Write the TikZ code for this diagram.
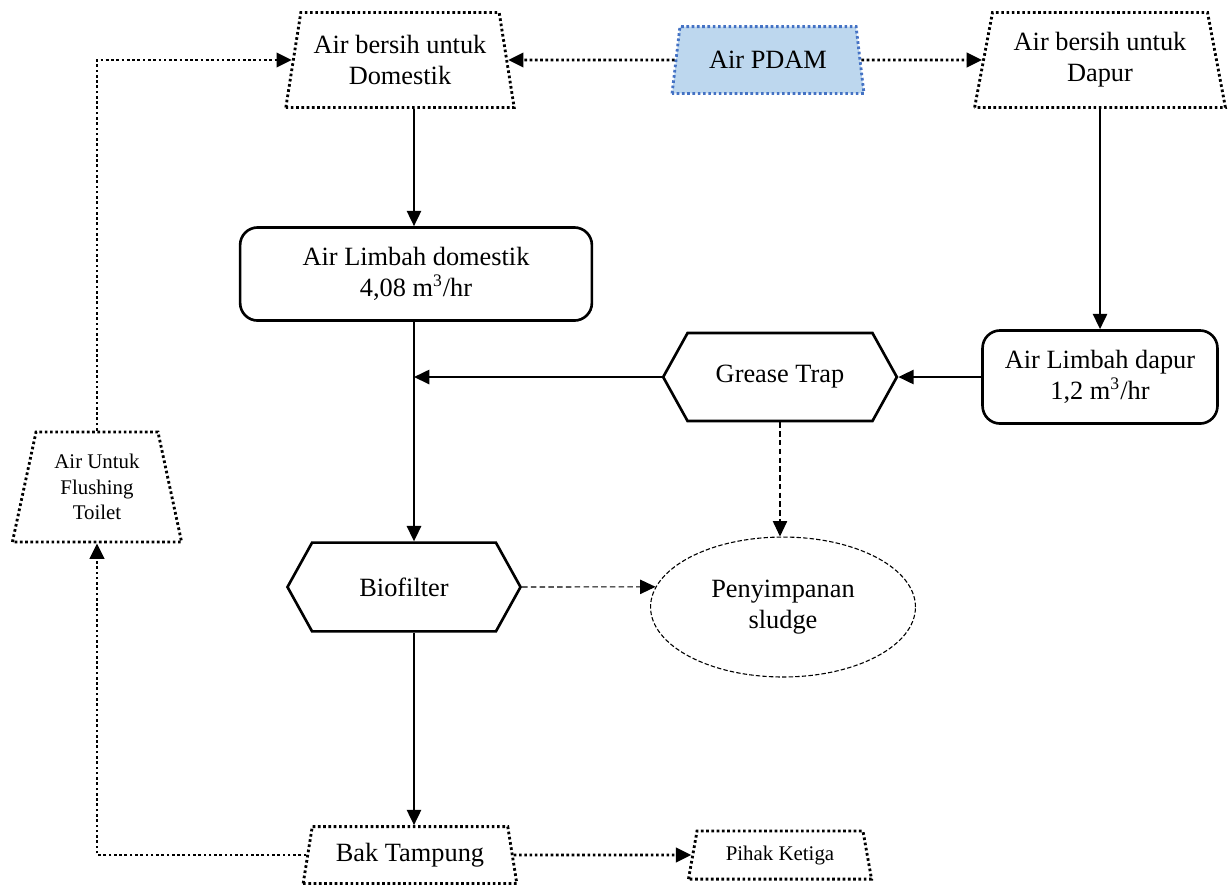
\documentclass[tikz,border=0pt]{standalone}
\usepackage{fontspec}
\setmainfont{Liberation Serif}
\usetikzlibrary{arrows.meta}
\usetikzlibrary{shapes.geometric}
\usetikzlibrary{shapes.symbols}
\tikzset{>={Triangle[length=7pt,width=6.5pt]}}
\definecolor{pdamfill}{HTML}{BDD7EE}
\definecolor{pdamline}{HTML}{4472C4}

\begin{document}
\begin{tikzpicture}[x=0.016cm, y=-0.016cm, font=\fontsize{12}{14}\selectfont,
    trap/.style={trapezium, trapezium left angle=76, trapezium right angle=76,
      trapezium stretches=true, draw, line width=1.3pt,
      dash pattern=on 1.2pt off 1.2pt, align=center, inner sep=1pt},
    box/.style={draw, line width=1.2pt, rounded corners=8pt, align=center},
    hexa/.style={signal, signal to=west and east, signal pointer angle=122,
      draw, line width=1.2pt, align=center},
    small/.style={font=\fontsize{9.5}{11.5}\selectfont},
    flow/.style={->, line width=0.95pt},
    dotflow/.style={->, line width=1.3pt, dash pattern=on 1.2pt off 1.2pt},
    dashflow/.style={->, line width=0.5pt, dash pattern=on 2.5pt off 1.5pt}]
  \useasboundingbox (0,0) rectangle (1229,885);
  % clean water
  \node[trap, minimum width=3.68cm, minimum height=1.52cm] (dom) at (400,60) {Air bersih untuk\\Domestik};
  \node[trap, minimum width=3.09cm, minimum height=1.07cm, fill=pdamfill, draw=pdamline] (pdam) at (768,60) {Air PDAM};
  \node[trap, minimum width=4.03cm, minimum height=1.52cm] (dapur) at (1100,60) {Air bersih untuk\\Dapur};
  % waste water
  \node[box, minimum width=5.63cm, minimum height=1.49cm] (limbahdom) at (416,274) {Air Limbah domestik\\4,08 m\textsuperscript{3}/hr};
  \node[box, minimum width=3.76cm, minimum height=1.49cm] (limbahdapur) at (1100,377) {Air Limbah dapur\\1,2 m\textsuperscript{3}/hr};
  % treatment
  \node[hexa, minimum width=3.74cm, minimum height=1.41cm] (grease) at (780,377) {Grease Trap};
  \node[hexa, minimum width=3.73cm, minimum height=1.42cm] (biofilter) at (404,587) {Biofilter};
  \node[ellipse, draw, line width=0.5pt, dash pattern=on 2pt off 1pt, minimum width=4.24cm, minimum height=2.24cm, align=center] (sludge) at (783,607) {Penyimpanan\\sludge};
  % reuse
  \node[trap, small, minimum width=2.72cm, minimum height=1.76cm] (flush) at (97,487) {Air Untuk\\Flushing\\Toilet};
  \node[trap, minimum width=3.44cm, minimum height=0.91cm] (bak) at (410,855) {Bak Tampung};
  \node[trap, small, minimum width=2.94cm, minimum height=0.77cm] (pihak) at (780,855) {Pihak Ketiga};
  \coordinate (trunk) at (414,0);

  % connectors
  \draw[dotflow] (pdam.west) -- (dom.east);
  \draw[dotflow] (pdam.east) -- (dapur.west);
  \draw[flow] (dom.south -| trunk) -- (limbahdom.north -| trunk);
  \draw[flow] (dapur.south) -- (dapur.south |- limbahdapur.north);
  \draw[flow] (limbahdapur.west) -- (grease.east);
  \draw[flow] (grease.west) -- (grease.west -| trunk);
  \draw[flow] (limbahdom.south -| trunk) -- (biofilter.north -| trunk);
  \draw[dashflow] (grease.south) -- (grease.south |- sludge.north);
  \draw[dashflow] (biofilter.east) -- (sludge.171);
  \draw[flow] (biofilter.south -| trunk) -- (bak.north -| trunk);
  \draw[dotflow] (bak.east) -- (pihak.west);
  \draw[dotflow] (bak.west) -| (flush.south);
  \draw[dotflow] (flush.north) |- (dom.west);
\end{tikzpicture}
\end{document}
